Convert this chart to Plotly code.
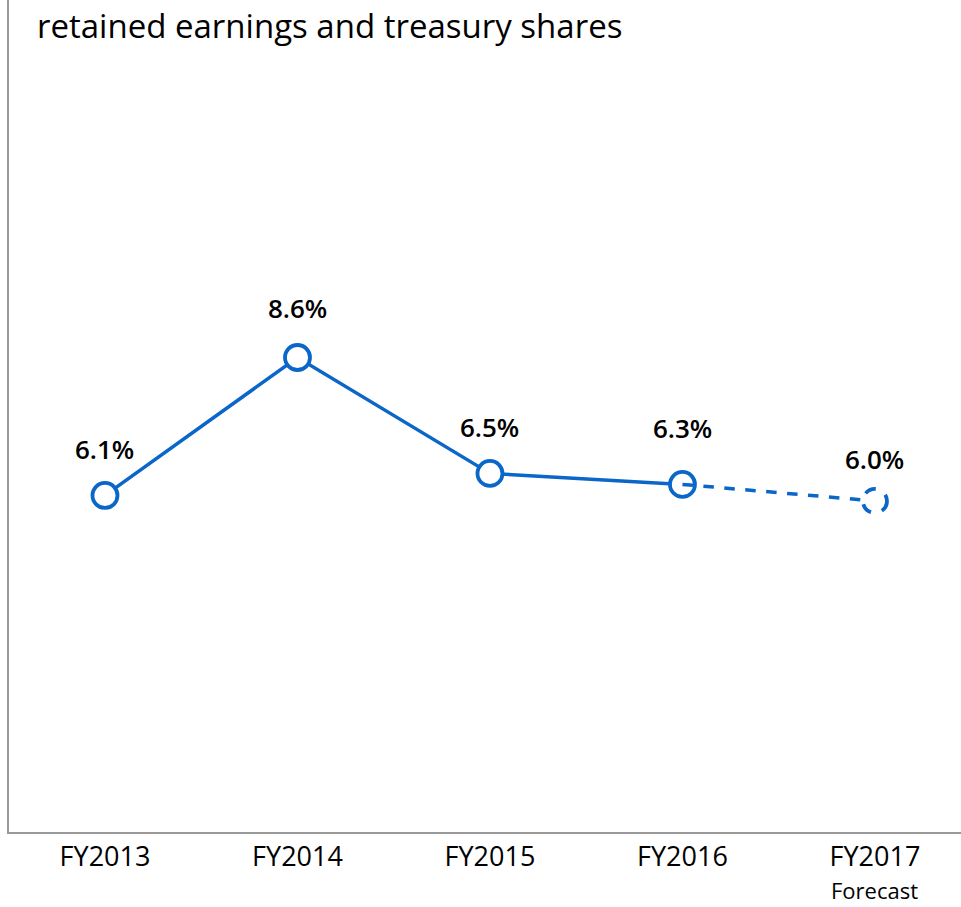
import plotly.graph_objects as go

# Fiscal years and ratio values (%)
years = ["FY2013", "FY2014", "FY2015", "FY2016", "FY2017"]
values = [6.1, 8.6, 6.5, 6.3, 6.0]
labels = ["6.1%", "8.6%", "6.5%", "6.3%", "6.0%"]
forecast_note = "Forecast"

BLUE = "#0b66c9"
FONT = "Open Sans"

xs = list(range(len(years)))
fig = go.Figure()

# Actual results: solid line with open circles
fig.add_trace(go.Scatter(
    x=xs[:4], y=values[:4], mode="lines+markers",
    line=dict(color=BLUE, width=3.5),
    marker=dict(symbol="circle", size=25, color="white",
                line=dict(color=BLUE, width=3.8)),
    hoverinfo="skip", showlegend=False,
))
# Forecast: dashed segment
fig.add_trace(go.Scatter(
    x=xs[3:], y=values[3:], mode="lines",
    line=dict(color=BLUE, width=3.5, dash="dash"),
    hoverinfo="skip", showlegend=False,
))
# Forecast marker with dashed outline
fig.add_shape(
    type="circle", xref="x", yref="y",
    xsizemode="pixel", ysizemode="pixel",
    xanchor=xs[4], yanchor=values[4],
    x0=-12, x1=12, y0=-12, y1=12,
    line=dict(color=BLUE, width=3.8, dash="dash"),
    fillcolor="white", layer="above",
)

# Value labels above the points
label_shift = [46, 50, 46, 56, 42]
for x, v, t, s in zip(xs, values, labels, label_shift):
    fig.add_annotation(x=x, y=v, text=t, showarrow=False,
                       yshift=s, font=dict(family=FONT, size=26, color="black",
                                           weight=600))

# "Forecast" note under the last category label
fig.add_annotation(x=xs[4], xref="x", y=0, yref="paper", yanchor="bottom",
                   yshift=-74, text=forecast_note, showarrow=False,
                   borderpad=0,
                   font=dict(family=FONT, size=22, color="black"))

# Heading
fig.add_annotation(xref="paper", yref="paper", x=(35 - 9) / 952, y=1,
                   xanchor="left", yanchor="top", yshift=-1,
                   text="retained earnings and treasury shares",
                   showarrow=False, font=dict(family=FONT, size=33, color="black"))

fig.update_layout(
    width=961, height=907,
    margin=dict(l=9, r=0, t=0, b=75),
    plot_bgcolor="white", paper_bgcolor="white",
    font=dict(family=FONT, size=27, color="black"),
    xaxis=dict(range=[-0.4987, 4.447], tickvals=xs, ticktext=years,
               showgrid=False, zeroline=False, showline=True,
               linecolor="#999999", linewidth=1.5, ticks="",
               ticklabelstandoff=0, automargin=False,
               tickfont=dict(family=FONT, size=27, color="black")),
    yaxis=dict(range=[0, 15.08], showgrid=False, zeroline=False,
               showline=True, linecolor="#999999", linewidth=1.5,
               showticklabels=False, ticks="", automargin=False),
)

fig.write_html("out.html")
